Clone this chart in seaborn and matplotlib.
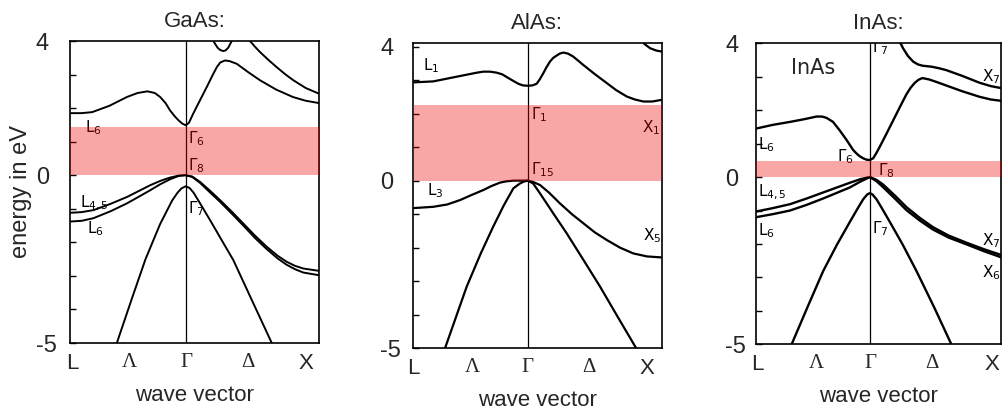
import matplotlib
matplotlib.use("Agg")
import matplotlib.pyplot as plt
import seaborn as sns
import pandas as pd

# Wave vector k in units of 2*pi/a: L at -0.866, Gamma at 0, X at 1.
K_LABELS = ["L", "Λ", "Γ", "Δ", "X"]
TITLES = ["GaAs:", "AlAs:", "InAs:"]
Y_TICKS = [-5, 0, 4]
Y_TICK_LABELS = ["-5", "0", "4"]

# Shaded band gap of each compound (eV above the valence-band top)
GAP_GAAS = 1.45
GAP_ALAS = 2.26
GAP_INAS = 0.47

# ---------------- GaAs bands (k, E in eV) ----------------
GAAS_CB1 = [(-0.866, 1.85), (-0.78, 1.85), (-0.70, 1.88), (-0.57, 2.07), (-0.44, 2.33),
            (-0.36, 2.45), (-0.286, 2.50), (-0.23, 2.45), (-0.19, 2.33), (-0.15, 2.15),
            (-0.116, 1.93), (-0.08, 1.75), (-0.054, 1.64), (-0.025, 1.54), (0.0, 1.49),
            (0.025, 1.56), (0.058, 1.84), (0.10, 2.17), (0.159, 2.63), (0.20, 2.96),
            (0.234, 3.22), (0.26, 3.36), (0.296, 3.42), (0.33, 3.40), (0.384, 3.32),
            (0.47, 3.07), (0.558, 2.83), (0.68, 2.55), (0.805, 2.33), (0.90, 2.22), (1.0, 2.15)]
GAAS_CB2 = [(0.19, 4.10), (0.208, 4.00), (0.24, 3.80), (0.26, 3.73), (0.283, 3.70),
            (0.30, 3.72), (0.32, 3.80), (0.346, 4.00), (0.36, 4.10)]
GAAS_CB3 = [(0.46, 4.10), (0.483, 4.00), (0.52, 3.83), (0.558, 3.67), (0.62, 3.44),
            (0.683, 3.22), (0.75, 3.00), (0.808, 2.83), (0.90, 2.60), (1.0, 2.43)]
GAAS_VB1 = [(-0.866, -1.12), (-0.78, -1.10), (-0.69, -1.04), (-0.56, -0.85), (-0.44, -0.65),
            (-0.35, -0.47), (-0.266, -0.30), (-0.19, -0.17), (-0.116, -0.07), (-0.05, -0.01),
            (0.0, 0.0), (0.05, -0.04), (0.109, -0.20), (0.18, -0.45), (0.258, -0.74),
            (0.345, -1.08), (0.433, -1.44), (0.52, -1.80), (0.608, -2.13), (0.69, -2.40),
            (0.758, -2.58), (0.82, -2.70), (0.882, -2.78), (1.0, -2.85)]
GAAS_VB2 = [(-0.866, -1.38), (-0.78, -1.36), (-0.69, -1.28), (-0.56, -1.07), (-0.44, -0.84),
            (-0.35, -0.64), (-0.266, -0.45), (-0.19, -0.27), (-0.116, -0.12), (-0.05, -0.02),
            (0.0, 0.0), (0.05, -0.05), (0.109, -0.23), (0.18, -0.50), (0.258, -0.79),
            (0.345, -1.14), (0.433, -1.50), (0.52, -1.87), (0.608, -2.20), (0.69, -2.48),
            (0.758, -2.67), (0.82, -2.80), (0.882, -2.90), (1.0, -2.98)]
GAAS_SO = [(-0.515, -5.0), (-0.40, -3.65), (-0.30, -2.50), (-0.19, -1.45), (-0.10, -0.75),
           (-0.06, -0.52), (-0.03, -0.39), (0.0, -0.33), (0.03, -0.38), (0.06, -0.52),
           (0.10, -0.78), (0.184, -1.34), (0.27, -1.93), (0.358, -2.53), (0.50, -3.75),
           (0.646, -5.0)]

# ---------------- AlAs bands ----------------
ALAS_CB1 = [(-0.858, 2.93), (-0.704, 2.96), (-0.58, 3.06), (-0.455, 3.16), (-0.38, 3.22),
            (-0.331, 3.25), (-0.28, 3.25), (-0.231, 3.22), (-0.19, 3.17), (-0.157, 3.09),
            (-0.11, 2.98), (-0.07, 2.89), (-0.035, 2.84), (0.0, 2.83), (0.035, 2.84),
            (0.067, 2.89), (0.09, 3.02), (0.116, 3.20), (0.14, 3.38), (0.166, 3.55),
            (0.19, 3.66), (0.216, 3.73), (0.24, 3.79), (0.266, 3.82), (0.30, 3.79),
            (0.34, 3.70), (0.415, 3.45), (0.50, 3.18), (0.59, 2.91), (0.66, 2.70),
            (0.739, 2.51), (0.80, 2.42), (0.863, 2.36), (0.93, 2.36), (1.0, 2.41)]
ALAS_CB2 = [(0.84, 4.30), (0.87, 4.08), (0.913, 3.95), (0.96, 3.88), (1.0, 3.85)]
ALAS_VB1 = [(-0.858, -0.82), (-0.704, -0.78), (-0.60, -0.71), (-0.505, -0.58), (-0.42, -0.43),
            (-0.331, -0.28), (-0.27, -0.16), (-0.207, -0.06), (-0.16, -0.02), (-0.107, 0.0),
            (0.0, 0.0), (0.04, -0.04), (0.092, -0.13), (0.16, -0.36), (0.241, -0.68),
            (0.33, -1.00), (0.415, -1.27), (0.50, -1.54), (0.59, -1.77), (0.69, -2.00),
            (0.788, -2.17), (0.89, -2.26), (1.0, -2.29)]
ALAS_VB2 = [(-0.617, -5.0), (-0.455, -3.16), (-0.35, -2.17), (-0.257, -1.37), (-0.18, -0.75),
            (-0.107, -0.23), (-0.06, -0.09), (-0.03, -0.03), (0.0, 0.0), (0.04, -0.08),
            (0.092, -0.38), (0.19, -0.97), (0.291, -1.57), (0.42, -2.39), (0.54, -3.16),
            (0.67, -4.05), (0.81, -5.0)]

# ---------------- InAs bands ----------------
INAS_CB1 = [(-0.866, 1.45), (-0.74, 1.56), (-0.607, 1.65), (-0.50, 1.73), (-0.405, 1.81),
            (-0.365, 1.81), (-0.329, 1.77), (-0.28, 1.65), (-0.23, 1.40), (-0.177, 1.11),
            (-0.127, 0.81), (-0.10, 0.70), (-0.076, 0.62), (-0.05, 0.56), (-0.025, 0.52),
            (0.0, 0.51), (0.025, 0.56), (0.05, 0.72), (0.076, 0.91), (0.127, 1.30),
            (0.177, 1.69), (0.228, 2.09), (0.279, 2.48), (0.31, 2.67), (0.34, 2.81),
            (0.37, 2.91), (0.40, 2.96), (0.45, 2.92), (0.51, 2.84), (0.58, 2.74),
            (0.70, 2.57), (0.835, 2.40), (0.92, 2.32), (1.0, 2.28)]
INAS_CB2 = [(0.22, 4.10), (0.253, 3.85), (0.29, 3.62), (0.33, 3.45), (0.365, 3.37),
            (0.40, 3.33), (0.47, 3.30), (0.52, 3.26), (0.58, 3.20), (0.70, 3.03),
            (0.835, 2.82), (0.92, 2.72), (1.0, 2.66)]
INAS_VB1 = [(-0.866, -1.03), (-0.74, -0.93), (-0.607, -0.81), (-0.48, -0.64), (-0.355, -0.46),
            (-0.25, -0.31), (-0.152, -0.17), (-0.07, -0.06), (0.0, 0.0), (0.05, -0.08),
            (0.10, -0.22), (0.19, -0.55), (0.279, -0.90), (0.38, -1.22), (0.481, -1.50),
            (0.60, -1.75), (0.734, -1.96), (0.87, -2.16), (1.0, -2.33)]
INAS_VB2 = [(-0.866, -1.20), (-0.74, -1.11), (-0.607, -1.00), (-0.48, -0.83), (-0.355, -0.64),
            (-0.25, -0.47), (-0.152, -0.31), (-0.07, -0.13), (0.0, 0.0), (0.05, -0.12),
            (0.10, -0.30), (0.19, -0.64), (0.279, -0.99), (0.38, -1.30), (0.481, -1.57),
            (0.60, -1.81), (0.734, -2.01), (0.87, -2.22), (1.0, -2.40)]
INAS_SO = [(-0.595, -5.0), (-0.47, -3.85), (-0.355, -2.81), (-0.25, -2.02), (-0.152, -1.34),
           (-0.09, -0.92), (-0.05, -0.66), (-0.02, -0.52), (0.0, -0.48), (0.02, -0.52),
           (0.05, -0.66), (0.09, -0.92), (0.152, -1.34), (0.25, -2.02), (0.355, -2.81),
           (0.49, -3.90), (0.62, -5.0)]

# Symmetry-point labels written inside each panel: (k, E, text)
GAAS_LABELS = [(-0.75, 1.43, r"L$_6$"), (0.02, 1.10, r"$\Gamma_6$"), (0.02, 0.30, r"$\Gamma_8$"),
               (-0.79, -0.83, r"L$_{4,5}$"), (-0.74, -1.60, r"L$_6$"), (0.02, -1.00, r"$\Gamma_7$")]
ALAS_LABELS = [(-0.78, 3.44, r"L$_1$"), (0.025, 1.98, r"$\Gamma_1$"), (0.855, 1.58, r"X$_1$"),
               (0.025, 0.34, r"$\Gamma_{15}$"), (-0.75, -0.30, r"L$_3$"), (0.86, -1.65, r"X$_5$")]
INAS_LABELS = [(0.015, 3.88, r"$\Gamma_7$"), (0.85, 2.99, r"X$_7$"), (-0.85, 0.98, r"L$_6$"),
               (-0.25, 0.61, r"$\Gamma_6$"), (0.06, 0.19, r"$\Gamma_8$"), (-0.85, -0.46, r"L$_{4,5}$"),
               (-0.85, -1.60, r"L$_6$"), (0.015, -1.53, r"$\Gamma_7$"), (0.85, -1.90, r"X$_7$"),
               (0.85, -2.85, r"X$_6$")]
INAS_NAME = "InAs"

sns.set_theme(style="white")
plt.rcParams["font.family"] = ["Liberation Sans", "DejaVu Sans"]
plt.rcParams["mathtext.fontset"] = "dejavusans"

W, H = 1002, 412
fig = plt.figure(figsize=(W / 100, H / 100), dpi=100)
fig.patch.set_facecolor("white")


def px_axes(left, right, top, bottom):
    return fig.add_axes([left / W, (H - bottom) / H, (right - left) / W, (bottom - top) / H])


panels = [
    dict(rect=(70, 319, 41, 343), ylim=(-5.0, 4.0), xlim=(-0.866, 1.0), gap=GAP_GAAS,
         bands=[GAAS_CB1, GAAS_CB2, GAAS_CB3, GAAS_VB1, GAAS_VB2, GAAS_SO],
         labels=GAAS_LABELS, lw=1.4, ypad=24.5,
         xticks=[-0.85, -0.42, 0.01, 0.464, 0.90]),
    dict(rect=(412.7, 661.7, 42.5, 348.3), ylim=(-5.0, 4.12), xlim=(-0.858, 1.0), gap=GAP_ALAS,
         bands=[ALAS_CB1, ALAS_CB2, ALAS_VB1, ALAS_VB2],
         labels=ALAS_LABELS, lw=1.6, ypad=23.5,
         xticks=[-0.85, -0.41, 0.0, 0.46, 0.89]),
    dict(rect=(756, 1001.3, 43.3, 344.3), ylim=(-5.0, 3.85), xlim=(-0.866, 1.0), gap=GAP_INAS,
         bands=[INAS_CB1, INAS_CB2, INAS_VB1, INAS_VB2, INAS_SO],
         labels=INAS_LABELS, lw=1.7, ypad=22.3,
         xticks=[-0.854, -0.41, 0.006, 0.475, 0.93]),
]

for i, p in enumerate(panels):
    ax = px_axes(*p["rect"])
    ax.set_facecolor("white")
    for band in p["bands"]:
        df = pd.DataFrame(band, columns=["k", "E"])
        sns.lineplot(data=df, x="k", y="E", ax=ax, sort=False, estimator=None,
                     color="black", lw=p["lw"], legend=False, zorder=2)
    for ln in ax.get_lines():
        ln.set_solid_joinstyle("round")
        ln.set_solid_capstyle("round")
    ax.axvline(0, color="black", lw=0.9, zorder=2)

    for k, e, s in p["labels"]:
        ax.text(k, e, s, ha="left", va="center", fontsize=11, color="black",
                family="DejaVu Sans", zorder=3, clip_on=True)

    # translucent band-gap strip laid over the bands
    ax.axhspan(0, p["gap"], color="#ee0000", alpha=0.35, lw=0, zorder=5)

    ax.set_xlim(*p["xlim"])
    ax.set_ylim(*p["ylim"])

    for sp in ax.spines.values():
        sp.set_visible(True)
        sp.set_color("black")
        sp.set_linewidth(1.2)

    ax.set_yticks(Y_TICKS)
    ax.set_yticklabels(Y_TICK_LABELS)
    ax.set_yticks(range(-4, 4), minor=True)
    ax.tick_params(axis="y", which="both", direction="in", length=4, width=1,
                   color="black", left=True, labelsize=17, pad=p["ypad"])
    for lbl in ax.get_yticklabels():
        lbl.set_horizontalalignment("left")

    ax.set_xticks(p["xticks"])
    ax.set_xticklabels(K_LABELS)
    ax.tick_params(axis="x", which="both", length=0, labelsize=16, pad=7, bottom=False)
    for lbl in ax.get_xticklabels():
        if lbl.get_text() in ("Λ", "Γ", "Δ"):
            lbl.set_family("Liberation Serif")
            lbl.set_fontsize(15)

    ax.set_xlabel("wave vector", fontsize=16, labelpad=8)
    ax.set_title(TITLES[i], fontsize=16, pad=10)
    if i == 0:
        ax.set_ylabel("energy in eV", fontsize=17)
        ax.yaxis.set_label_coords(-0.153, 0.5)
    else:
        ax.set_ylabel("")
    if i == 2:
        ax.text(-0.43, 3.26, INAS_NAME, ha="center", va="center", fontsize=15,
                family="DejaVu Sans", zorder=3)

fig.savefig("out.png", dpi=100, facecolor="white")
